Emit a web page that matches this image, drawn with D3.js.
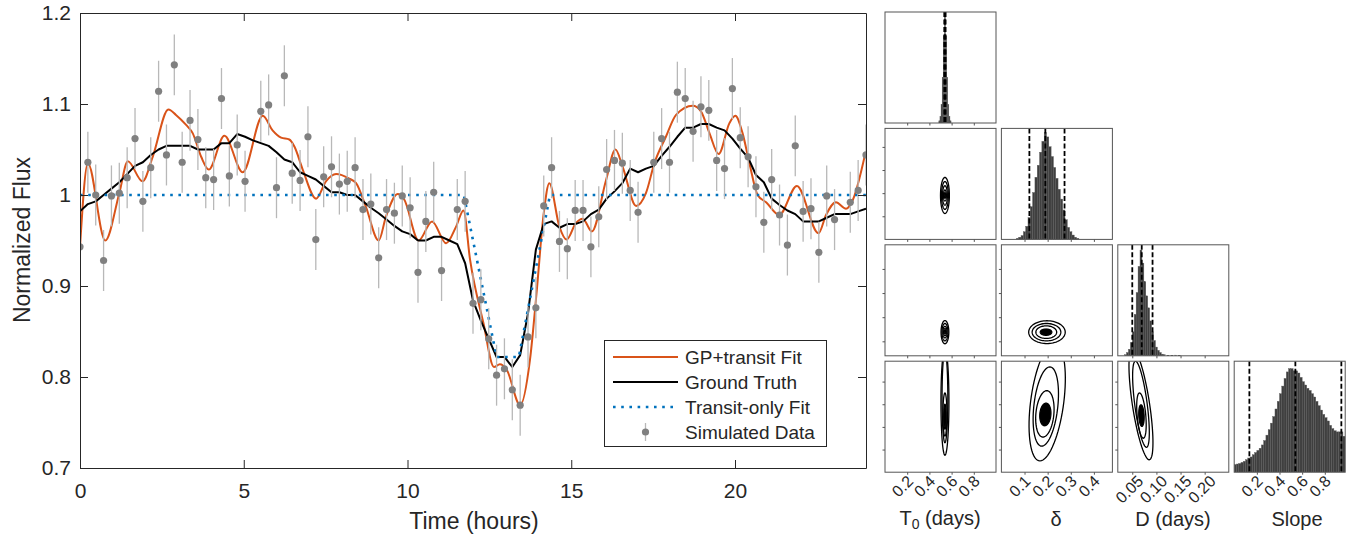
<!DOCTYPE html>
<html>
<head>
<meta charset="utf-8">
<script src="https://cdnjs.cloudflare.com/ajax/libs/d3/7.8.5/d3.min.js"></script>
<style>
  body { margin: 0; background: #fff; }
  svg text { font-family: "Liberation Sans", Arial, Helvetica, sans-serif; fill: #262626; }
</style>
</head>
<body>
<svg id="chart" width="1354" height="534"></svg>
<script>
// ---- main light curve data ----
var dataTime = [0.00,0.24,0.48,0.72,0.96,1.20,1.44,1.68,1.92,2.16,2.40,2.64,2.88,3.12,3.36,3.60,3.84,4.08,4.32,4.56,4.80,5.04,
  5.52,5.76,6.00,6.24,6.48,6.72,6.96,7.20,7.44,7.68,7.92,8.16,8.40,8.64,8.88,9.12,9.36,9.60,9.84,10.08,10.32,10.56,10.80,11.04,
  11.52,11.76,12.00,12.24,12.48,12.72,12.96,13.20,13.44,13.68,13.92,14.16,14.40,14.64,14.88,15.12,15.36,15.60,15.84,16.08,16.32,16.56,16.80,17.04,
  17.52,17.76,18.00,18.24,18.48,18.72,18.96,19.20,19.44,19.68,19.92,20.16,20.40,20.64,20.88,21.12,21.36,21.60,21.84,22.08,22.32,22.56,22.80,23.04,
  23.52,23.76,24.00];
var dataFlux = [0.943,1.036,1.000,0.928,0.999,1.002,1.019,1.062,0.993,1.030,1.114,1.044,1.143,1.036,1.082,1.061,1.019,1.017,1.106,1.021,1.055,1.015,
  1.092,1.099,1.008,1.131,1.024,1.016,1.064,0.951,1.020,1.031,1.012,1.015,1.030,0.984,0.990,0.931,0.984,0.980,0.999,0.986,0.915,0.971,1.003,0.917,
  0.984,0.993,0.881,0.885,0.842,0.802,0.809,0.786,0.769,0.844,0.876,0.988,1.030,0.949,0.941,0.983,0.983,0.943,0.976,1.028,1.038,1.035,1.005,0.981,
  1.036,1.062,1.036,1.113,1.106,1.070,1.097,1.093,1.038,1.029,1.117,1.063,1.042,1.009,0.970,1.017,0.978,0.945,1.054,0.982,0.985,0.937,0.999,0.973,
  0.992,1.005,1.044];
var dataErr = 0.0335;

var truthTime = [0,0.24,0.48,0.72,0.96,1.20,1.44,1.68,1.92,2.16,2.40,2.64,2.88,3.12,3.36,3.60,3.84,4.08,4.32,4.56,4.80,5.04,5.28,5.52,5.76,
  6.00,6.24,6.48,6.72,6.96,7.20,7.44,7.68,7.92,8.16,8.40,8.64,8.88,9.12,9.36,9.60,9.84,10.08,10.32,10.56,10.80,11.04,11.28,11.52,11.76,
  12.00,12.24,12.48,12.72,12.96,13.20,13.44,13.68,13.92,14.16,14.40,14.64,14.88,15.12,15.36,15.60,15.84,16.08,16.32,16.56,16.80,17.04,17.28,
  17.52,17.76,18.00,18.24,18.48,18.72,18.96,19.20,19.44,19.68,19.92,20.16,20.40,20.64,20.88,21.12,21.36,21.60,21.84,22.08,22.32,22.56,22.80,
  23.04,23.28,23.52,23.76,24.00];
var truthFlux = [0.982,0.990,0.993,1.000,1.007,1.014,1.023,1.032,1.036,1.044,1.050,1.054,1.054,1.054,1.054,1.050,1.050,1.050,1.057,1.057,1.067,1.064,1.060,1.057,1.054,
  1.047,1.039,1.036,1.025,1.021,1.017,1.010,1.003,1.003,1.000,1.000,0.993,0.986,0.980,0.973,0.966,0.960,0.957,0.950,0.950,0.954,0.954,0.950,0.946,0.925,
  0.884,0.862,0.842,0.822,0.822,0.811,0.824,0.870,0.940,0.968,0.971,0.964,0.968,0.968,0.971,0.979,0.984,0.996,1.004,1.013,1.029,1.025,1.029,
  1.032,1.043,1.053,1.064,1.074,1.074,1.078,1.078,1.074,1.071,1.062,1.051,1.041,1.022,1.014,0.996,0.989,0.983,0.979,0.971,0.971,0.971,0.975,
  0.979,0.979,0.979,0.982,0.985];

var gpTime = [0,0.24,0.77,1.20,1.46,1.91,2.22,2.70,2.93,3.24,3.44,3.70,3.93,4.41,4.97,5.58,5.88,6.14,6.39,6.55,6.80,7.21,7.51,7.82,
  8.22,8.43,8.73,9.12,9.34,9.70,9.90,10.34,10.75,11.18,11.48,11.71,11.91,12.32,12.64,12.82,13.03,13.44,13.74,13.94,14.16,14.33,14.64,14.86,
  15.14,15.35,15.63,16.06,16.35,16.57,16.98,17.28,17.54,17.89,18.20,18.71,18.96,19.22,19.50,19.83,20.01,20.23,20.44,20.69,20.95,21.35,
  21.89,22.55,22.78,23.08,23.39,23.59,23.98];
var gpFlux = [0.943,1.035,0.950,1.002,1.037,1.015,1.042,1.094,1.088,1.077,1.068,1.042,1.028,1.065,1.025,1.087,1.071,1.063,1.061,1.053,1.028,0.996,1.015,1.023,
  1.018,1.013,0.987,0.950,0.976,1.001,0.995,0.950,0.971,0.947,0.965,0.983,0.929,0.859,0.811,0.814,0.808,0.769,0.819,0.892,0.980,1.013,0.965,0.951,
  0.969,0.974,0.960,1.016,1.050,1.031,0.988,1.002,1.035,1.064,1.088,1.098,1.092,1.068,1.045,1.079,1.087,1.068,1.035,1.000,0.992,0.978,
  1.010,0.958,0.978,0.992,0.985,0.994,1.046];

var transitTime = [0, 11.72, 12.72, 13.40, 14.35, 24];
var transitFlux = [1.0, 1.0, 0.822, 0.822, 1.0, 1.0];

var xTicks = [0, 5, 10, 15, 20];
var yTicks = [0.7, 0.8, 0.9, 1.0, 1.1, 1.2];
var legendLabels = ["GP+transit Fit", "Ground Truth", "Transit-only Fit", "Simulated Data"];

// ---- corner plot data ----
var paramDomains = [[0, 1], [0, 0.48], [0.02, 0.25], [0, 0.98]];
var paramTicks = [[0.2, 0.4, 0.6, 0.8], [0.1, 0.2, 0.3, 0.4], [0.05, 0.10, 0.15, 0.20], [0.2, 0.4, 0.6, 0.8]];
var paramTickFmt = [".1f", ".1f", ".2f", ".1f"];
var paramLabelX = [940, 1056, 1173, 1297];

var histT0Bins = [0.49,0.50,0.51,0.52,0.53,0.54,0.55,0.56,0.57,0.58,0.59];
var histT0Vals = [0.02,0.06,0.17,0.42,0.80,1.00,0.80,0.42,0.17,0.06,0.02];
var histDeltaBins = [0.07,0.08,0.09,0.10,0.11,0.12,0.13,0.14,0.15,0.16,0.17,0.18,0.19,0.20,0.21,0.22,0.23,0.24,0.25,0.26,0.27,0.28,0.29,0.30,0.31,0.32,0.33];
var histDeltaVals = [0.01,0.02,0.035,0.07,0.12,0.20,0.30,0.43,0.57,0.68,0.80,0.90,0.98,0.94,0.85,0.76,0.66,0.56,0.46,0.37,0.27,0.18,0.11,0.07,0.04,0.02,0.01];
var histDBins = [0.036,0.040,0.044,0.048,0.052,0.056,0.060,0.064,0.068,0.072,0.076,0.080,0.084,0.088,0.092,0.096,0.100,0.104,0.108,0.112,0.116,0.124,0.132,0.140,0.148];
var histDVals = [0.01,0.03,0.06,0.12,0.22,0.38,0.58,0.82,0.97,0.85,0.68,0.55,0.44,0.32,0.22,0.14,0.08,0.05,0.03,0.015,0.01,0.005,0.005,0.006,0.004];
var histSlopeBins = [0.01,0.03,0.05,0.07,0.09,0.11,0.13,0.15,0.17,0.19,0.21,0.23,0.25,0.27,0.29,0.31,0.33,0.35,0.37,0.39,0.41,0.43,0.45,0.47,0.49,
  0.51,0.53,0.55,0.57,0.59,0.61,0.63,0.65,0.67,0.69,0.71,0.73,0.75,0.77,0.79,0.81,0.83,0.85,0.87,0.89,0.91,0.93,0.95,0.97];
var histSlopeVals = [0.07,0.075,0.08,0.09,0.10,0.115,0.13,0.14,0.16,0.18,0.20,0.22,0.25,0.29,0.34,0.39,0.45,0.51,0.58,0.65,0.72,0.79,0.86,0.92,0.95,
  0.95,0.93,0.93,0.91,0.87,0.83,0.80,0.77,0.75,0.72,0.69,0.65,0.61,0.57,0.53,0.50,0.47,0.43,0.40,0.38,0.37,0.37,0.37,0.33];
var histBinWidths = [0.01, 0.01, 0.004, 0.02];
var credT0 = [0.534, 0.540, 0.546];
var credDelta = [0.121, 0.190, 0.273];
var credD = [0.050, 0.0696, 0.092];
var credSlope = [0.134, 0.540, 0.946];

// contour rings: [cx, cy, rx, ry, shear]  (last entry is the filled core)
var contT0Delta = [[0.54,0.19,0.040,0.078,0],[0.54,0.19,0.031,0.060,0],[0.54,0.19,0.022,0.042,0],[0.54,0.19,0.013,0.024,0],[0.54,0.19,0.007,0.012,0]];
var contT0D = [[0.54,0.069,0.035,0.024,0],[0.54,0.069,0.027,0.018,0],[0.54,0.069,0.019,0.012,0],[0.54,0.069,0.012,0.0075,0],[0.54,0.069,0.007,0.004,0]];
var contDeltaD = [[0.197,0.069,0.079,0.0236,0],[0.195,0.069,0.062,0.018,0],[0.194,0.069,0.045,0.013,0],[0.193,0.069,0.025,0.0065,0]];
var contT0Slope = [[0.54,0.62,0.036,0.47,0],[0.54,0.66,0.026,0.40,0],[0.54,0.51,0.018,0.19,0],[0.54,0.49,0.011,0.11,0]];
var contDeltaSlope = [[0.198,0.62,0.072,0.52,0.06],[0.192,0.58,0.052,0.35,0.05],[0.188,0.515,0.039,0.205,0.04],[0.19,0.51,0.024,0.10,0.03]];
var contDSlope = [[0.068,0.60,0.018,0.49,-0.035],[0.068,0.60,0.013,0.38,-0.03],[0.069,0.50,0.009,0.20,-0.02],[0.069,0.50,0.0055,0.095,-0.01]];

var svg = d3.select("#chart");
var axisColor = "#262626";

// ================= main panel =================
var x = d3.scaleLinear().domain([0, 24]).range([80, 866]);
var y = d3.scaleLinear().domain([0.7, 1.2]).range([468, 13]);

var defs = svg.append("defs");
defs.append("clipPath").attr("id", "mainClip")
  .append("rect").attr("x", 80).attr("y", 13).attr("width", 786).attr("height", 455);

var plot = svg.append("g").attr("clip-path", "url(#mainClip)");
var straight = d3.line().x(d => x(d[0])).y(d => y(d[1]));

plot.append("path")
  .attr("fill", "none").attr("stroke", "#D95319").attr("stroke-width", 2)
  .attr("d", d3.line().x(d => x(d[0])).y(d => y(d[1])).curve(d3.curveMonotoneX)(d3.zip(gpTime, gpFlux)));

plot.append("path")
  .attr("fill", "none").attr("stroke", "#000").attr("stroke-width", 2)
  .attr("stroke-linejoin", "round")
  .attr("d", straight(d3.zip(truthTime, truthFlux)));

plot.append("path")
  .attr("fill", "none").attr("stroke", "#0072BD").attr("stroke-width", 2.6)
  .attr("stroke-dasharray", "2.6,5.6")
  .attr("d", straight(d3.zip(transitTime, transitFlux)));

var pts = d3.zip(dataTime, dataFlux);
plot.selectAll(".err").data(pts).enter().append("line")
  .attr("x1", d => x(d[0])).attr("x2", d => x(d[0]))
  .attr("y1", d => y(d[1] - dataErr)).attr("y2", d => y(d[1] + dataErr))
  .attr("stroke", "#b8b8b8").attr("stroke-width", 1.3);
plot.selectAll(".pt").data(pts).enter().append("circle")
  .attr("cx", d => x(d[0])).attr("cy", d => y(d[1])).attr("r", 3.6)
  .attr("fill", "#808080");

// axes (MATLAB style, ticks inside, boxed)
function styleAxis(g) {
  g.selectAll("path.domain").attr("stroke", axisColor);
  g.selectAll(".tick line").attr("stroke", axisColor);
  g.selectAll(".tick text").style("font-size", "21px").attr("fill", axisColor);
}
svg.append("g").attr("transform", "translate(0,468)")
  .call(d3.axisBottom(x).tickValues(xTicks).tickSizeInner(-8).tickSizeOuter(0).tickPadding(15).tickFormat(d3.format("d")))
  .call(styleAxis);
svg.append("g").attr("transform", "translate(0,13)")
  .call(d3.axisTop(x).tickValues(xTicks).tickSizeInner(-8).tickSizeOuter(0).tickFormat(""))
  .call(styleAxis);
svg.append("g").attr("transform", "translate(80,0)")
  .call(d3.axisLeft(y).tickValues(yTicks).tickSizeInner(-8).tickSizeOuter(0).tickPadding(9).tickFormat(d => d3.format("~g")(d)))
  .call(styleAxis);
svg.append("g").attr("transform", "translate(866,0)")
  .call(d3.axisRight(y).tickValues(yTicks).tickSizeInner(-8).tickSizeOuter(0).tickFormat(""))
  .call(styleAxis);

svg.append("text").attr("x", 474).attr("y", 529).attr("text-anchor", "middle")
  .style("font-size", "23px").text("Time (hours)");
svg.append("text").attr("transform", "translate(30,240) rotate(-90)").attr("text-anchor", "middle")
  .style("font-size", "23px").text("Normalized Flux");

// legend
var leg = svg.append("g");
leg.append("rect").attr("x", 604.5).attr("y", 340.5).attr("width", 222).attr("height", 106)
  .attr("fill", "#fff").attr("stroke", "#262626").attr("stroke-width", 1);
var legY = [357, 382, 407, 432];
leg.append("line").attr("x1", 613).attr("x2", 678).attr("y1", legY[0]).attr("y2", legY[0])
  .attr("stroke", "#D95319").attr("stroke-width", 2);
leg.append("line").attr("x1", 613).attr("x2", 678).attr("y1", legY[1]).attr("y2", legY[1])
  .attr("stroke", "#000").attr("stroke-width", 2);
leg.append("line").attr("x1", 613).attr("x2", 678).attr("y1", legY[2]).attr("y2", legY[2])
  .attr("stroke", "#0072BD").attr("stroke-width", 2.6).attr("stroke-dasharray", "2.6,5.6");
leg.append("line").attr("x1", 645.5).attr("x2", 645.5).attr("y1", legY[3] - 9).attr("y2", legY[3] + 9)
  .attr("stroke", "#b8b8b8").attr("stroke-width", 1.3);
leg.append("circle").attr("cx", 645.5).attr("cy", legY[3]).attr("r", 3.6).attr("fill", "#808080");
leg.selectAll(".lt").data(legendLabels).enter().append("text")
  .attr("x", 685).attr("y", (d, i) => legY[i]).attr("dy", "0.35em")
  .style("font-size", "19px").attr("fill", "#000").text(d => d);

// ================= corner plot =================
var pSize = 111, pStep = 116.4, pLeft = 885, pTop = 12;
var panelColor = "#555";

function panelScales(c, r) {
  var x0 = pLeft + c * pStep, y0 = pTop + r * pStep;
  return {
    x0: x0, y0: y0,
    xs: d3.scaleLinear().domain(paramDomains[c]).range([x0, x0 + pSize]),
    ys: d3.scaleLinear().domain(paramDomains[r]).range([y0 + pSize, y0])
  };
}

function drawFrame(g, s, c, r, yTicksOn) {
  g.append("g").attr("transform", "translate(0," + (s.y0 + pSize) + ")")
    .call(d3.axisBottom(s.xs).tickValues(paramTicks[c]).tickSizeInner(2.5).tickSizeOuter(0).tickFormat(""))
    .call(a => a.selectAll("path.domain").remove())
    .call(a => a.selectAll(".tick line").attr("stroke", panelColor));
  if (yTicksOn) {
    g.append("g").attr("transform", "translate(" + s.x0 + ",0)")
      .call(d3.axisLeft(s.ys).tickValues(paramTicks[r]).tickSizeInner(2.5).tickSizeOuter(0).tickFormat(""))
      .call(a => a.selectAll("path.domain").remove())
      .call(a => a.selectAll(".tick line").attr("stroke", panelColor));
  }
  g.append("rect").attr("x", s.x0).attr("y", s.y0).attr("width", pSize).attr("height", pSize)
    .attr("fill", "none").attr("stroke", panelColor).attr("stroke-width", 1);
}

function clipFor(c, r, s) {
  var id = "clip" + c + r;
  defs.append("clipPath").attr("id", id)
    .append("rect").attr("x", s.x0).attr("y", s.y0).attr("width", pSize).attr("height", pSize);
  return "url(#" + id + ")";
}

function drawHist(c, bins, vals, width, cred) {
  var s = panelScales(c, c);
  var g = svg.append("g");
  var hy = d3.scaleLinear().domain([0, 1]).range([s.y0 + pSize, s.y0 + 2]);
  var inner = g.append("g").attr("clip-path", clipFor(c, c, s));
  inner.selectAll("rect").data(d3.zip(bins, vals)).enter().append("rect")
    .attr("x", d => s.xs(d[0] - width / 2))
    .attr("width", d => s.xs(d[0] + width / 2) - s.xs(d[0] - width / 2))
    .attr("y", d => hy(d[1]))
    .attr("height", d => hy(0) - hy(d[1]))
    .attr("fill", "#3f3f3f").attr("stroke", "#5a5a5a").attr("stroke-width", 0.4);
  inner.selectAll("line").data(cred).enter().append("line")
    .attr("x1", d => s.xs(d)).attr("x2", d => s.xs(d))
    .attr("y1", s.y0).attr("y2", s.y0 + pSize)
    .attr("stroke", "#000").attr("stroke-width", 1.8).attr("stroke-dasharray", "5,2.5");
  drawFrame(g, s, c, c, false);
}

function ringPath(s, ring) {
  var pts = d3.range(0, 73).map(function (k) {
    var a = k / 72 * 2 * Math.PI;
    var dy = ring[3] * Math.sin(a);
    return [s.xs(ring[0] + ring[2] * Math.cos(a) + ring[4] * dy), s.ys(ring[1] + dy)];
  });
  return d3.line().curve(d3.curveLinearClosed)(pts);
}

function drawContours(c, r, rings) {
  var s = panelScales(c, r);
  var g = svg.append("g");
  var inner = g.append("g").attr("clip-path", clipFor(c, r, s));
  inner.selectAll("path").data(rings).enter().append("path")
    .attr("d", d => ringPath(s, d))
    .attr("fill", (d, i) => i === rings.length - 1 ? "#000" : "none")
    .attr("stroke", "#000").attr("stroke-width", 1.3);
  drawFrame(g, s, c, r, true);
}

drawHist(0, histT0Bins, histT0Vals, histBinWidths[0], credT0);
drawHist(1, histDeltaBins, histDeltaVals, histBinWidths[1], credDelta);
drawHist(2, histDBins, histDVals, histBinWidths[2], credD);
drawHist(3, histSlopeBins, histSlopeVals, histBinWidths[3], credSlope);
drawContours(0, 1, contT0Delta);
drawContours(0, 2, contT0D);
drawContours(1, 2, contDeltaD);
drawContours(0, 3, contT0Slope);
drawContours(1, 3, contDeltaSlope);
drawContours(2, 3, contDSlope);

// bottom row tick labels (rotated)
paramTicks.forEach(function (ticks, c) {
  var s = panelScales(c, 3);
  var shift = ticks.length && paramTickFmt[c] === ".2f" ? 12 : 7;
  svg.append("g").selectAll("text").data(ticks).enter().append("text")
    .attr("transform", d => "translate(" + (s.xs(d) + shift) + "," + (s.y0 + pSize + 10) + ") rotate(-45)")
    .attr("text-anchor", "end")
    .style("font-size", "16px").attr("fill", "#000")
    .text(d => d3.format(paramTickFmt[c])(d));
});

// parameter labels
var lab1 = svg.append("text").attr("x", paramLabelX[0]).attr("y", 525).attr("text-anchor", "middle")
  .style("font-size", "20px").attr("fill", "#000");
lab1.append("tspan").text("T");
lab1.append("tspan").attr("dy", 4).style("font-size", "14px").text("0");
lab1.append("tspan").attr("dy", -4).text(" (days)");
svg.append("text").attr("x", paramLabelX[1]).attr("y", 526).attr("text-anchor", "middle")
  .style("font-size", "20px").attr("fill", "#000").text("δ");
svg.append("text").attr("x", paramLabelX[2]).attr("y", 526).attr("text-anchor", "middle")
  .style("font-size", "20px").attr("fill", "#000").text("D (days)");
svg.append("text").attr("x", paramLabelX[3]).attr("y", 526).attr("text-anchor", "middle")
  .style("font-size", "20px").attr("fill", "#000").text("Slope");
</script>
</body>
</html>
